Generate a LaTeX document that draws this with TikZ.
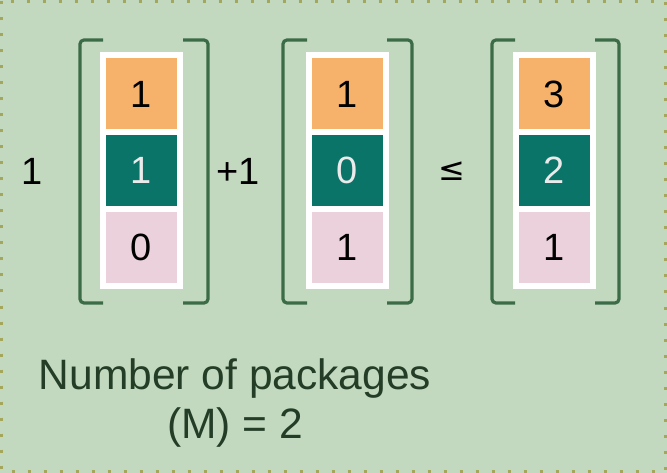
\documentclass[tikz,border=0pt]{standalone}
\usepackage{fontspec}
\setmainfont{Liberation Sans}
\definecolor{bgpanel}{HTML}{C2D9BF}
\definecolor{panelrim}{HTML}{A4A65C}
\definecolor{brack}{HTML}{3C6B47}
\definecolor{cellorange}{HTML}{F6B26B}
\definecolor{cellteal}{HTML}{0B7468}
\definecolor{cellpink}{HTML}{EAD1DC}
\definecolor{captiongreen}{HTML}{233D26}
\tikzset{
  colframe/.style={fill=white, draw=none, minimum width=83pt, minimum height=237pt, inner sep=0pt},
  cellbase/.style={draw=none, minimum width=71pt, minimum height=71pt, inner sep=0pt,
    font=\fontsize{38}{40}\selectfont},
  orangecell/.style={cellbase, fill=cellorange, text=black},
  tealcell/.style={cellbase, fill=cellteal, text=white!92!black},
  pinkcell/.style={cellbase, fill=cellpink, text=black},
  bracketline/.style={draw=brack, line width=3.2pt, rounded corners=4pt},
  opsign/.style={font=\fontsize{38}{40}\selectfont, text=black, inner sep=0pt},
}
\begin{document}
\begin{tikzpicture}[x=1pt,y=-1pt]
\useasboundingbox (0,0) rectangle (667,473);
% panel
\fill[bgpanel] (0,0) rectangle (667,473);
\draw[panelrim, line width=3pt, dash pattern=on 3pt off 13pt] (1.5,1.5) rectangle (665.5,471.5);

% column 1
\node[colframe] (f1) at (141.5,171) {};
\node[orangecell] (a1) at (141.5,94) {1};
\node[tealcell] (b1) at (141.5,170.5) {1};
\node[pinkcell] (c1) at (141.5,247.5) {0};
\draw[bracketline] (103,40) -- (80,40) -- (80,303) -- (103,303);
\draw[bracketline] (183,40) -- (208,40) -- (208,303) -- (183,303);

% column 2
\node[colframe] (f2) at (347,171) {};
\node[orangecell] (a2) at (347,94) {1};
\node[tealcell] (b2) at (347,170.5) {0};
\node[pinkcell] (c2) at (347,247.5) {1};
\draw[bracketline] (307,40) -- (283,40) -- (283,303) -- (307,303);
\draw[bracketline] (387,40) -- (412,40) -- (412,303) -- (387,303);

% column 3
\node[colframe] (f3) at (554.5,171) {};
\node[orangecell] (a3) at (554.5,94) {3};
\node[tealcell] (b3) at (554.5,170.5) {2};
\node[pinkcell] (c3) at (554.5,247.5) {1};
\draw[bracketline] (515,40) -- (492,40) -- (492,303) -- (515,303);
\draw[bracketline] (595,40) -- (619,40) -- (619,303) -- (595,303);

% coefficients and relation
\node[opsign] (k1) at (32,171) {1};
\node[opsign] (k2) at (238,171) {+1};
\node[opsign] (rel) at (452,171) {\fontspec{DejaVu Sans}\fontsize{32}{34}\selectfont ≤};

% caption
\node[font=\fontsize{42.5}{49}\selectfont, text=captiongreen, align=center, inner sep=0pt] (cap) at (235,403)
  {Number of packages\\(M) = 2};
\end{tikzpicture}
\end{document}
